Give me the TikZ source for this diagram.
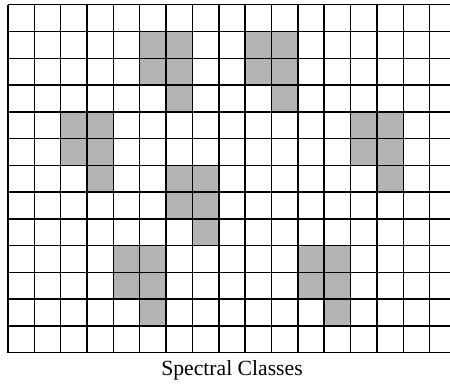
\documentclass[tikz,border=0pt]{standalone}
\usepackage{fontspec}
\setmainfont{Liberation Serif}
\usetikzlibrary{positioning}
\definecolor{cellgray}{RGB}{179, 179, 179}
\tikzstyle{shaded} = [fill=cellgray, draw=none]
\tikzstyle{gridline} = [black, line width=0.8pt]
\tikzstyle{caption} = [font=\fontsize{11.7}{14}\selectfont, inner sep=0pt]

\begin{document}
\begin{tikzpicture}[x=0.5cm, y=0.508cm]
    % Frame (grid runs past the right edge)
    \useasboundingbox (-0.3036,-1.169) rectangle (16.774,13.176);
    \clip (-0.3036,-1.169) rectangle (16.774,13.176);

    % Shaded cells: 2x2 block plus one cell below right
    \foreach \c/\r in {5/1, 9/1, 2/4, 13/4, 6/6, 4/9, 11/9} {
        \fill[shaded] (\c,13-\r) rectangle (\c+2,11-\r);
        \fill[shaded] (\c+1,11-\r) rectangle (\c+2,10-\r);
    }

    % Grid
    \foreach \x in {0,...,17}
        \draw[gridline] (\x,0) -- (\x,13);
    \foreach \y in {0,...,13}
        \draw[gridline] (0,\y) -- (17,\y);

    % Caption
    \coordinate (capanchor) at (8.5,-0.646);
    \node[caption] (cap) at (capanchor) {Spectral Classes};
\end{tikzpicture}
\end{document}
